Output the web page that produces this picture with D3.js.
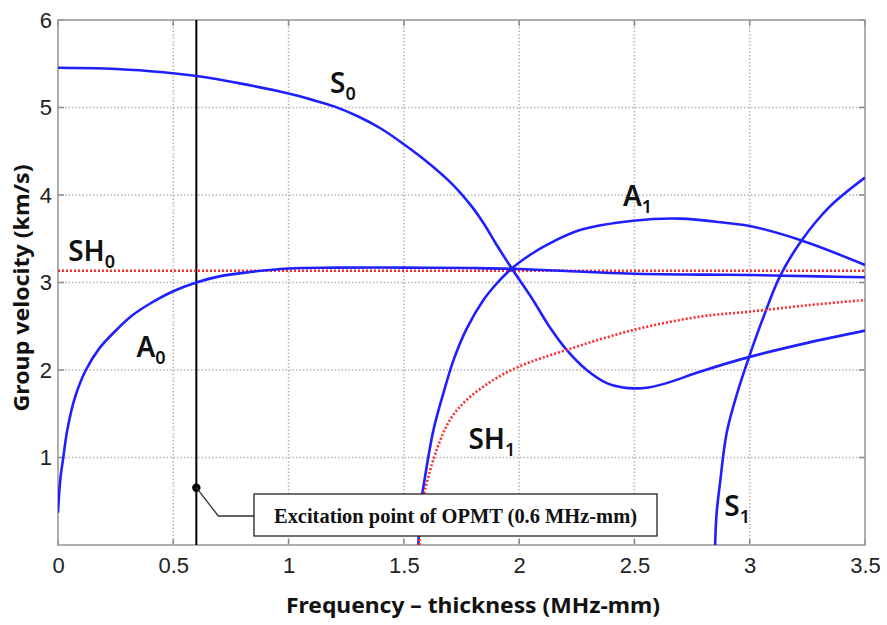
<!DOCTYPE html>
<html>
<head>
<meta charset="utf-8">
<script src="https://cdn.jsdelivr.net/npm/d3@7"></script>
<style>
  html, body { margin: 0; padding: 0; background: #fff; }
  svg { display: block; }
</style>
</head>
<body>
<svg id="chart" width="887" height="625"></svg>
<script>
// ---------------- data ----------------
const xTicks = [0, 0.5, 1, 1.5, 2, 2.5, 3, 3.5];
const xTickLabels = ["0", "0.5", "1", "1.5", "2", "2.5", "3", "3.5"];
const yTicks = [1, 2, 3, 4, 5, 6];
const yTickLabels = ["1", "2", "3", "4", "5", "6"];

// Lamb / SH modes: frequency-thickness (MHz-mm) vs group velocity (km/s)
const a0X = [0, 0.01, 0.023, 0.04, 0.074, 0.121, 0.18, 0.254, 0.32, 0.4, 0.5, 0.6, 0.7, 0.833, 1.0, 1.2, 1.5, 1.8, 2.0, 2.3, 2.5, 2.8, 3.0, 3.3, 3.5];
const a0Y = [0.37, 0.75, 1.0, 1.31, 1.69, 2.0, 2.25, 2.46, 2.62, 2.76, 2.9, 3.0, 3.07, 3.12, 3.16, 3.17, 3.17, 3.165, 3.155, 3.12, 3.1, 3.09, 3.085, 3.07, 3.06];

const s0X = [0, 0.2, 0.4, 0.6, 0.8, 1.0, 1.1, 1.2, 1.3, 1.4, 1.5, 1.6, 1.7, 1.75, 1.8, 1.85, 1.9, 1.968, 2.06, 2.13, 2.206, 2.293, 2.38, 2.45, 2.5, 2.56, 2.64, 2.784, 3.0, 3.25, 3.5];
const s0Y = [5.455, 5.445, 5.415, 5.36, 5.27, 5.16, 5.09, 5.01, 4.9, 4.76, 4.58, 4.38, 4.15, 4.01, 3.85, 3.66, 3.44, 3.16, 2.8, 2.5, 2.23, 2.0, 1.85, 1.8, 1.79, 1.8, 1.85, 1.98, 2.15, 2.31, 2.45];

const a1X = [1.563, 1.568, 1.575, 1.585, 1.628, 1.671, 1.715, 1.772, 1.845, 1.9, 1.968, 2.05, 2.12, 2.264, 2.495, 2.698, 2.9, 3.0, 3.225, 3.5];
const a1Y = [0, 0.3, 0.5, 0.67, 1.31, 1.73, 2.11, 2.47, 2.8, 2.98, 3.16, 3.32, 3.43, 3.6, 3.706, 3.73, 3.68, 3.646, 3.48, 3.2];

const s1X = [2.85, 2.856, 2.871, 2.9, 2.944, 3.0, 3.059, 3.131, 3.225, 3.348, 3.5];
const s1Y = [0, 0.35, 0.705, 1.28, 1.72, 2.17, 2.6, 3.07, 3.48, 3.87, 4.2];

const sh0X = [0, 3.5];
const sh0Y = [3.135, 3.135];

const sh1X = [1.567, 1.569, 1.575, 1.592, 1.642, 1.70, 1.772, 1.888, 2.0, 2.206, 2.495, 2.784, 3.0, 3.25, 3.5];
const sh1Y = [0, 0.2, 0.38, 0.63, 1.086, 1.43, 1.657, 1.886, 2.04, 2.23, 2.457, 2.61, 2.667, 2.74, 2.8];

// mode labels: main text, subscript, anchor in data units
const labelMain = ["S", "A", "SH", "A", "SH", "S"];
const labelSub = ["0", "1", "0", "0", "1", "1"];
const labelX = [1.18, 2.45, 0.044, 0.34, 1.78, 2.89];
const labelY = [5.17, 3.87, 3.25, 2.15, 1.1, 0.33];

// excitation marker
const excitationX = 0.6;
const excitationDotY = 0.655;
const excitationText = "Excitation point of OPMT (0.6 MHz-mm)";

const xTitle = "Frequency \u2013 thickness (MHz-mm)";
const yTitle = "Group velocity (km/s)";

// ---------------- drawing ----------------
const svg = d3.select("#chart");
const x = d3.scaleLinear().domain([0, 3.5]).range([58, 865]);
const y = d3.scaleLinear().domain([0, 6]).range([545, 20]);
const [x0, x1] = x.range();
const [yb, yt] = y.range();

svg.append("rect").attr("width", 887).attr("height", 625).attr("fill", "#fff");

// grid
const grid = svg.append("g");
grid.selectAll("line.vx").data(xTicks.filter(d => d > 0 && d < 3.5)).join("line")
  .attr("x1", d => x(d)).attr("x2", d => x(d)).attr("y1", yt).attr("y2", yb)
  .attr("stroke", "#b4b4b4").attr("stroke-width", 1.5).attr("stroke-dasharray", "1.5,2");
grid.selectAll("line.hy").data(yTicks.filter(d => d < 6)).join("line")
  .attr("x1", x0).attr("x2", x1).attr("y1", d => y(d)).attr("y2", d => y(d))
  .attr("stroke", "#b4b4b4").attr("stroke-width", 1.5).attr("stroke-dasharray", "1.5,2");

// axes (labels via d3 axes)
const xAxis = d3.axisBottom(x).tickValues(xTicks).tickFormat((d, i) => xTickLabels[i]).tickSize(0).tickPadding(12);
const gx = svg.append("g").attr("transform", `translate(0,${yb})`).call(xAxis);
gx.select(".domain").remove();
gx.selectAll("text").attr("font-family", "'Liberation Sans', Arial, sans-serif").attr("font-size", 22).attr("fill", "#222");

const yAxis = d3.axisLeft(y).tickValues(yTicks).tickFormat((d, i) => yTickLabels[i]).tickSize(0).tickPadding(6);
const gy = svg.append("g").attr("transform", `translate(${x0},0)`).call(yAxis);
gy.select(".domain").remove();
gy.selectAll("text").attr("font-family", "'Liberation Sans', Arial, sans-serif").attr("font-size", 22).attr("fill", "#222");

// inner tick marks (all four sides)
const tk = svg.append("g").attr("stroke", "#8a8a8a").attr("stroke-width", 1.5);
xTicks.forEach(d => {
  tk.append("line").attr("x1", x(d)).attr("x2", x(d)).attr("y1", yb).attr("y2", yb - 6);
  tk.append("line").attr("x1", x(d)).attr("x2", x(d)).attr("y1", yt).attr("y2", yt + 6);
});
yTicks.forEach(d => {
  tk.append("line").attr("x1", x0).attr("x2", x0 + 6).attr("y1", y(d)).attr("y2", y(d));
  tk.append("line").attr("x1", x1).attr("x2", x1 - 6).attr("y1", y(d)).attr("y2", y(d));
});

// frame
svg.append("rect").attr("x", x0).attr("y", yt).attr("width", x1 - x0).attr("height", yb - yt)
  .attr("fill", "none").attr("stroke", "#9a9a9a").attr("stroke-width", 1.6);

// clip
svg.append("clipPath").attr("id", "plotclip").append("rect")
  .attr("x", x0).attr("y", yt).attr("width", x1 - x0).attr("height", yb - yt);

const line = d3.line().x(d => x(d[0])).y(d => y(d[1])).curve(d3.curveCatmullRom.alpha(0.5));
const zip = (xs, ys) => xs.map((v, i) => [v, ys[i]]);

const curves = svg.append("g").attr("clip-path", "url(#plotclip)");

// excitation vertical line
curves.append("line").attr("x1", x(excitationX)).attr("x2", x(excitationX)).attr("y1", yt).attr("y2", yb)
  .attr("stroke", "#000").attr("stroke-width", 2);

const redStyle = sel => sel.attr("fill", "none").attr("stroke", "#ff2a2a").attr("stroke-width", 2.6).attr("stroke-dasharray", "2,2");
const blueStyle = sel => sel.attr("fill", "none").attr("stroke", "#1f1fff").attr("stroke-width", 2.6);

curves.append("path").datum(zip(sh0X, sh0Y)).attr("d", line).call(redStyle);
[[a0X, a0Y], [s0X, s0Y], [a1X, a1Y], [s1X, s1Y]].forEach(([xs, ys]) => {
  curves.append("path").datum(zip(xs, ys)).attr("d", line).call(blueStyle);
});
curves.append("path").datum(zip(sh1X, sh1Y)).attr("d", line).call(redStyle);

// mode labels
const lab = svg.append("g").attr("font-family", "'Noto Sans', 'Open Sans', sans-serif").attr("fill", "#111");
labelMain.forEach((m, i) => {
  const t = lab.append("text").attr("x", x(labelX[i])).attr("y", y(labelY[i]))
    .attr("font-size", 28).attr("font-weight", 600);
  t.append("tspan").text(m);
  t.append("tspan").attr("font-size", 18).attr("dy", 7).text(labelSub[i]);
});

// excitation dot, leader and box
const dotX = x(excitationX), dotY = y(excitationDotY);
svg.append("circle").attr("cx", dotX).attr("cy", dotY).attr("r", 4.2).attr("fill", "#000");
const boxL = 254, boxT = 494, boxW = 403, boxH = 42;
svg.append("polyline")
  .attr("points", `${dotX},${dotY} ${dotX + 22},${boxT + boxH / 2 + 1} ${boxL},${boxT + boxH / 2 + 1}`)
  .attr("fill", "none").attr("stroke", "#333").attr("stroke-width", 1.3);
svg.append("rect").attr("x", boxL).attr("y", boxT).attr("width", boxW).attr("height", boxH)
  .attr("fill", "#fff").attr("stroke", "#222").attr("stroke-width", 1.3);
svg.append("text").attr("x", boxL + boxW / 2).attr("y", boxT + 29)
  .attr("text-anchor", "middle")
  .attr("font-family", "'Liberation Serif', 'Times New Roman', serif")
  .attr("font-weight", "bold").attr("font-size", 21).attr("fill", "#111")
  .attr("textLength", 363).attr("lengthAdjust", "spacingAndGlyphs")
  .text(excitationText);

// axis titles
svg.append("text").attr("x", 473).attr("y", 613)
  .attr("text-anchor", "middle")
  .attr("font-family", "'Noto Sans', 'Open Sans', sans-serif").attr("font-weight", "bold")
  .attr("font-size", 21).attr("fill", "#111")
  .attr("textLength", 374).attr("lengthAdjust", "spacingAndGlyphs")
  .text(xTitle);
svg.append("text").attr("transform", "translate(29,288) rotate(-90)")
  .attr("text-anchor", "middle")
  .attr("font-family", "'Noto Sans', 'Open Sans', sans-serif").attr("font-weight", "bold")
  .attr("font-size", 21).attr("fill", "#111")
  .attr("textLength", 247).attr("lengthAdjust", "spacingAndGlyphs")
  .text(yTitle);
</script>
</body>
</html>
